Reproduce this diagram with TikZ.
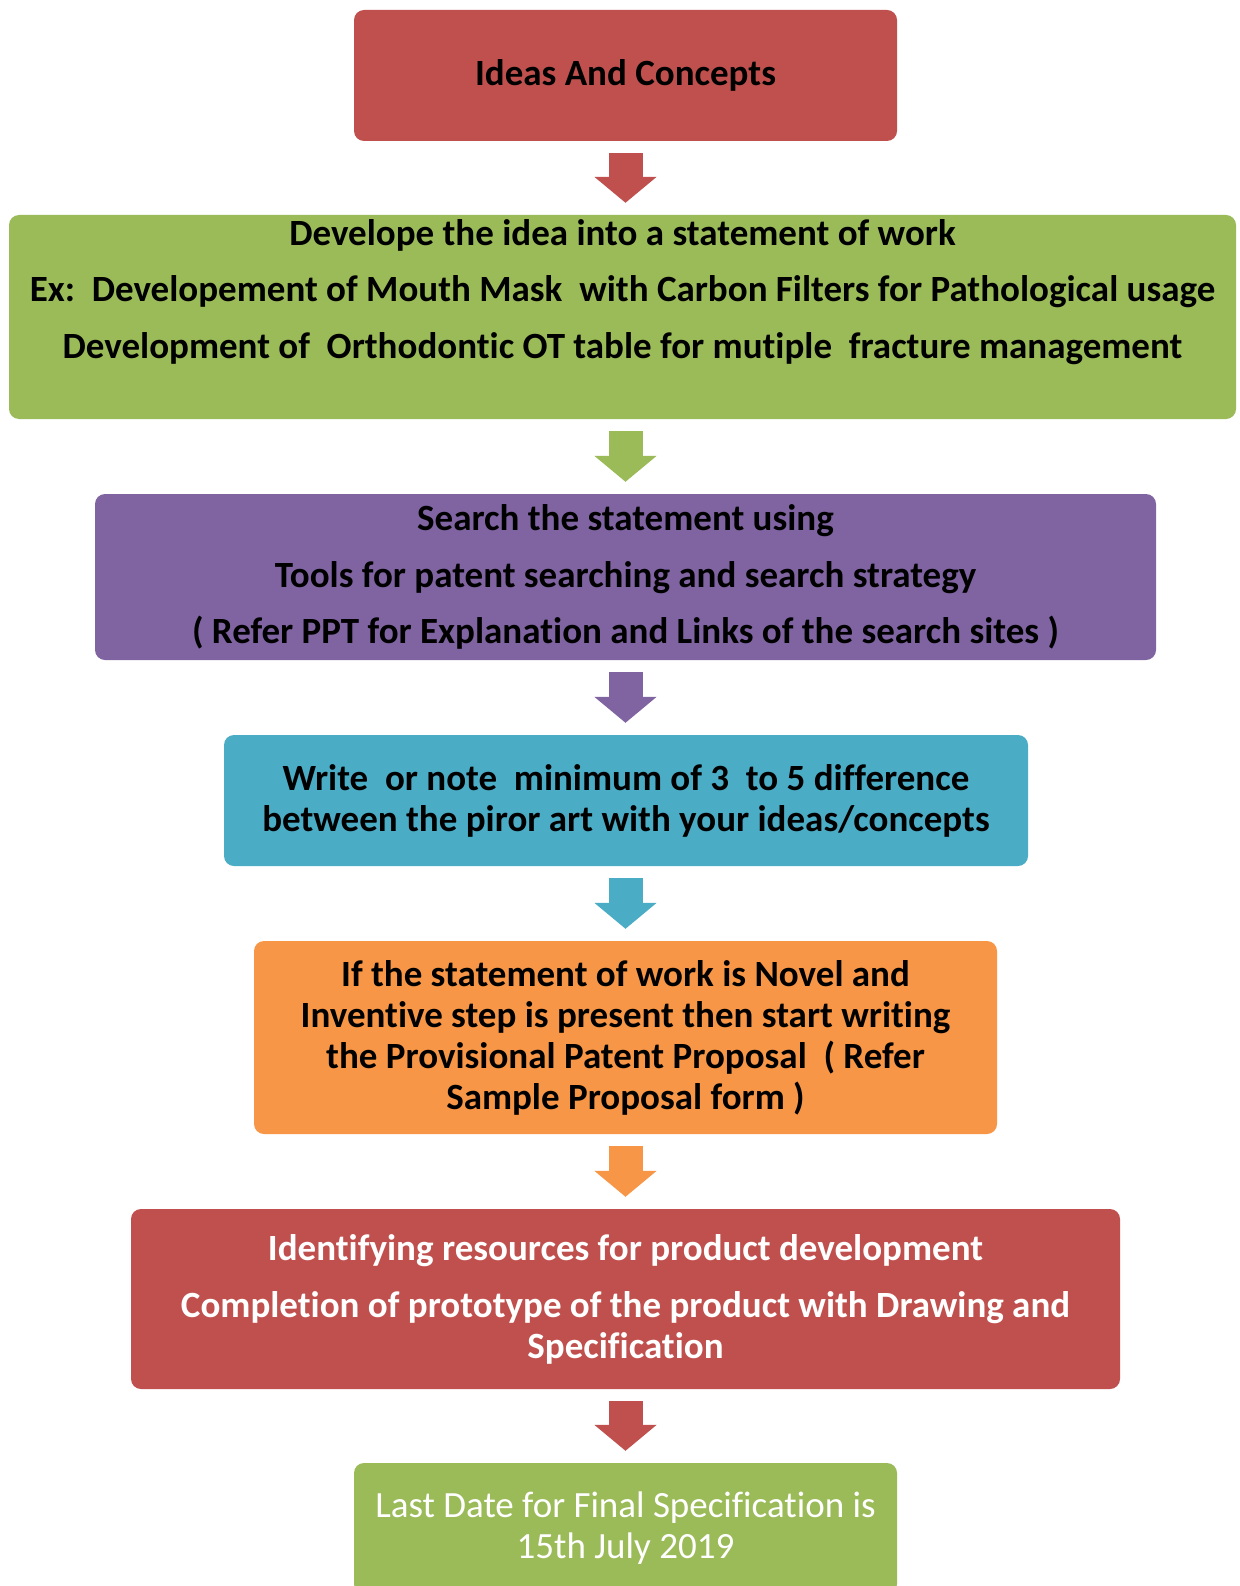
\documentclass[tikz,border=0pt]{standalone}
\usepackage{fontspec}
\setmainfont{Carlito}[Ligatures=NoCommon]
\usetikzlibrary{arrows.meta}
\definecolor{boxcolor0000}{RGB}{192,80,77}
\definecolor{boxcolor0001}{RGB}{155,187,89}
\definecolor{boxcolor0002}{RGB}{128,100,162}
\definecolor{boxcolor0003}{RGB}{75,172,198}
\definecolor{boxcolor0004}{RGB}{247,150,70}
\begin{document}
\begin{tikzpicture}[yscale=-1
,pbox/.style={rectangle,rounded corners=10pt,inner sep=0pt,align=center,font=\fontsize{37}{41}\selectfont\bfseries}
,parrow/.style={line width=34pt,-{Triangle[width=61pt,length=26pt]},shorten <=12pt,shorten >=12pt}
]
\useasboundingbox (0pt,0pt) rectangle (1239pt,1586pt);
\node (idea) at (625.5pt,75.5pt)[pbox,fill=boxcolor0000,minimum width=543pt,minimum height=131pt]{Ideas And Concepts};
\node (develop) at (622.5pt,317pt)[pbox,fill=boxcolor0001,minimum width=1227pt,minimum height=204pt]{Develope the idea into a statement of work\\[15.5pt]
Ex:\ \ Developement of Mouth Mask\ \ with Carbon Filters for Pathological usage\\[15.5pt]
Development of\ \ Orthodontic OT table for mutiple\ \ fracture management\\[15.5pt]\mbox{}};
\node (search) at (625.5pt,577pt)[pbox,fill=boxcolor0002,minimum width=1061pt,minimum height=166pt]{Search the statement using\\[15.5pt]
Tools for patent searching and search strategy\\[15.5pt]
( Refer PPT for Explanation and Links of the search sites )};
\node (write) at (626pt,800.5pt)[pbox,fill=boxcolor0003,minimum width=804pt,minimum height=131pt]{Write\ \ or note\ \ minimum of 3\ \ to 5 difference\\
between the piror art with your ideas/concepts};
\node (novel) at (625.5pt,1037.5pt)[pbox,fill=boxcolor0004,minimum width=743pt,minimum height=193pt]{If the statement of work is Novel and\\
Inventive step is present then start writing\\
the Provisional Patent Proposal\ \ ( Refer\\
Sample Proposal form )};
\node (proto) at (625.5pt,1299pt)[pbox,fill=boxcolor0000,text=white,minimum width=989pt,minimum height=180pt]{Identifying resources for product development\\[16pt]
Completion of prototype of the product with Drawing and\\
Specification};
\node (lastdate) at (625.5pt,1528.5pt)[pbox,fill=boxcolor0001,text=white,font=\fontsize{37}{41}\selectfont,minimum width=543pt,minimum height=131pt]{Last Date for Final Specification is\\
15th July 2019};
\draw[parrow,boxcolor0000] (idea.south) -- (idea.south |- develop.north);
\draw[parrow,boxcolor0001] (develop.south -| idea.south) -- (search.north);
\draw[parrow,boxcolor0002] (search.south) -- (write.north -| search.south);
\draw[parrow,boxcolor0003] (write.south -| search.south) -- (novel.north);
\draw[parrow,boxcolor0004] (novel.south) -- (proto.north);
\draw[parrow,boxcolor0000] (proto.south) -- (lastdate.north);
\end{tikzpicture}
\end{document}
